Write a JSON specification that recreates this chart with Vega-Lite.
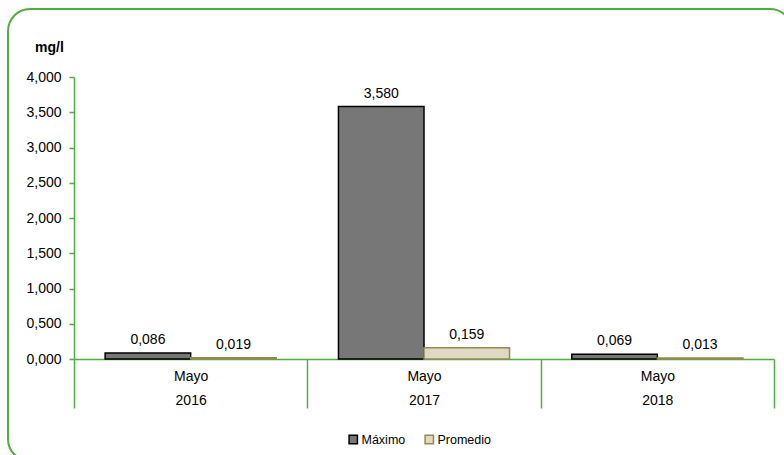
{
  "$schema": "https://vega.github.io/schema/vega-lite/v6.json",
  "width": 784,
  "height": 452,
  "autosize": {"type": "none"},
  "padding": {"left": 8, "top": 9, "right": 0, "bottom": 0},
  "background": "white",
  "config": {
    "locale": {"number": {"decimal": ",", "thousands": ".", "grouping": [3], "currency": ["$", ""]}},
    "font": "Liberation Sans",
    "view": {"stroke": "#4caf3a", "strokeWidth": 2, "cornerRadius": 22},
    "axis": {"labelFont": "Liberation Sans", "labelColor": "#000000", "titleFont": "Liberation Sans", "titleColor": "#000000", "grid": false}
  },
  "data": {
    "values": [
      {"year": "2016", "serie": "Máximo", "valor": 0.086},
      {"year": "2016", "serie": "Promedio", "valor": 0.019},
      {"year": "2017", "serie": "Máximo", "valor": 3.58},
      {"year": "2017", "serie": "Promedio", "valor": 0.159},
      {"year": "2018", "serie": "Máximo", "valor": 0.069},
      {"year": "2018", "serie": "Promedio", "valor": 0.013}
    ]
  },
  "encoding": {
    "x": {
      "field": "year",
      "type": "nominal",
      "scale": {"range": [66, 766], "paddingInner": 0, "paddingOuter": 0},
      "axis": {
        "title": null,
        "offset": -102,
        "labelAngle": 0,
        "labelExpr": "datum.label ? ['Mayo', datum.label] : ''",
        "labelFontSize": 14,
        "labelLineHeight": 24,
        "labelPadding": -39,
        "labelBaseline": "top",
        "tickBand": "extent",
        "tickSize": 49,
        "tickColor": "#4caf3a",
        "tickWidth": 1.5,
        "domainColor": "#4caf3a",
        "domainWidth": 1.5
      }
    },
    "xOffset": {"field": "serie", "type": "nominal", "sort": ["Máximo", "Promedio"], "scale": {"paddingInner": 0, "paddingOuter": 0.364}},
    "y": {
      "field": "valor",
      "type": "quantitative",
      "scale": {"domain": [0, 4], "range": [350, 68], "nice": false},
      "axis": {
        "offset": -66,
        "values": [0, 0.5, 1, 1.5, 2, 2.5, 3, 3.5, 4],
        "format": ".3f",
        "labelFontSize": 14,
        "labelPadding": 8,
        "tickSize": 5,
        "tickColor": "#4caf3a",
        "tickWidth": 1.5,
        "domainColor": "#4caf3a",
        "domainWidth": 1.5,
        "title": "mg/l",
        "titleAngle": 0,
        "titleX": -25,
        "titleY": 38,
        "titleAlign": "center",
        "titleBaseline": "middle",
        "titleFontSize": 14,
        "titleFontWeight": "bold"
      }
    }
  },
  "layer": [
    {
      "mark": {"type": "bar", "strokeWidth": 1.5},
      "encoding": {
        "color": {
          "field": "serie",
          "type": "nominal",
          "scale": {"domain": ["Máximo", "Promedio"], "range": ["#777777", "#ddd9c3"]},
          "legend": {
            "title": null,
            "orient": "none",
            "legendX": 339,
            "legendY": 424,
            "direction": "horizontal",
            "symbolType": "square",
            "symbolSize": 70,
            "symbolStrokeWidth": 1.5,
            "labelFontSize": 12.5,
            "labelFont": "Liberation Sans",
            "labelColor": "#000000",
            "labelOffset": 2,
            "columnPadding": 16
          }
        },
        "stroke": {
          "field": "serie",
          "type": "nominal",
          "scale": {"domain": ["Máximo", "Promedio"], "range": ["#000000", "#948a54"]},
          "legend": null
        }
      }
    },
    {
      "mark": {"type": "text", "dy": -13, "fontSize": 14, "color": "#000000", "font": "Liberation Sans"},
      "encoding": {"text": {"field": "valor", "type": "quantitative", "format": ".3f"}}
    }
  ]
}
